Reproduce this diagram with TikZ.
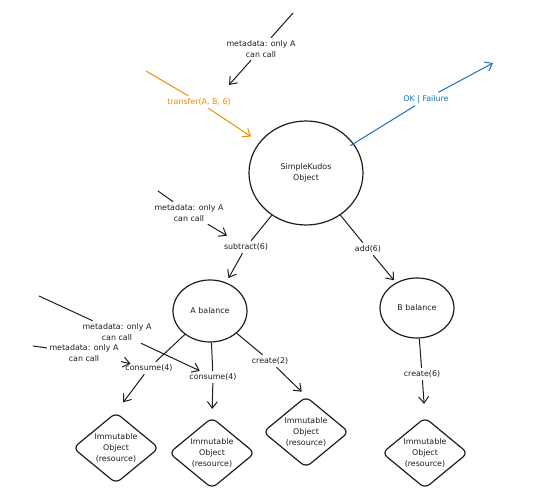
\documentclass[tikz,border=0pt]{standalone}
\usepackage{fontspec}
\setmainfont{DejaVu Sans}
\usetikzlibrary{shapes.geometric, arrows.meta}
\definecolor{ink}{HTML}{1E1E1E}
\definecolor{exorange}{HTML}{F08C00}
\definecolor{exblue}{HTML}{1971C2}
\begin{document}
\begin{tikzpicture}[x=1pt,y=-1pt,
  every node/.style={font=\fontsize{7.9}{11}\selectfont, text=ink},
  lbl/.style={align=center, inner sep=2.5pt},
  blob/.style={ellipse, draw=ink, line width=1.2pt, inner sep=0pt, align=center},
  res/.style={diamond, draw=ink, line width=1.2pt, rounded corners=6pt,
    minimum width=86pt, minimum height=71pt, inner sep=0pt, aspect=1.21, align=center},
  link/.style={draw=ink, line width=1pt},
  arr/.style={link, -{Straight Barb[length=6.5pt,width=10pt]}},
]
\fill[white] (0,0) rectangle (533,500);
\useasboundingbox (0,0) rectangle (533,500);

% main nodes
\node[blob, minimum width=114pt, minimum height=104pt] (kudos) at (306,173) {SimpleKudos\\Object};
\node[blob, minimum width=74pt, minimum height=62pt] (abal) at (210,311) {A balance};
\node[blob, minimum width=74pt, minimum height=60pt] (bbal) at (417,308) {B balance};

\node[res] (d1) at (116,448) {Immutable\\Object\\(resource)};
\node[res] (d2) at (212,453) {Immutable\\Object\\(resource)};
\node[res] (d3) at (306,432) {Immutable\\Object\\(resource)};
\node[res] (d4) at (425,453) {Immutable\\Object\\(resource)};

% labels
\node[lbl] (m1) at (261,49) {metadata: only A\\can call};
\node[lbl, text=exorange] (transfer) at (199,102) {transfer(A, B, 6)};
\node[lbl, text=exblue] (okf) at (426,99) {OK | Failure};
\node[lbl] (m2) at (189,213) {metadata: only A\\can call};
\node[lbl] (subtract) at (246,247) {subtract(6)};
\node[lbl] (add) at (368,249) {add(6)};
\node[lbl] (m3) at (117,332) {metadata: only A\\can call};
\node[lbl] (m4) at (84,353) {metadata: only A\\can call};
\node[lbl] (c1) at (149,368) {consume(4)};
\node[lbl] (c2) at (213,377) {consume(4)};
\node[lbl] (cr2) at (270,361) {create(2)};
\node[lbl] (cr6) at (422,374) {create(6)};

% free ends
\coordinate (t1) at (293,13);
\coordinate (h1) at (229,85);
\coordinate (t2) at (146,71);
\coordinate (h3) at (493,63);
\coordinate (t4) at (158,191);
\coordinate (t7) at (39,296);
\coordinate (t8) at (33,346);

% connectors
\draw[link] (t1) -- (m1);
\draw[arr] (m1) -- (h1);

\draw[link, draw=exorange] (t2) -- (transfer);
\draw[arr, draw=exorange, shorten >=10pt] (transfer) -- (kudos);

\draw[link, draw=exblue, shorten <=-4pt] (kudos) -- (okf);
\draw[arr, draw=exblue] (okf) -- (h3);

\draw[link] (t4) -- (m2);
\draw[arr, shorten >=10pt] (m2) -- (subtract);

\draw[link] (kudos) -- (subtract);
\draw[arr, shorten >=5pt] (subtract) -- (abal);

\draw[link] (kudos) -- (add);
\draw[arr, shorten >=3pt] (add) -- (bbal);

\draw[link] (t7) -- (m3);
\draw[arr] (m3) -- (c2);

\draw[link] (t8) -- (m4);
\draw[arr, shorten >=-8pt] (m4) -- (c1);

\draw[link] (abal) -- (c1);
\draw[arr, shorten >=12pt] (c1) -- (d1.north);

\draw[link] (abal) -- (c2);
\draw[arr, shorten >=8pt] (c2) -- (d2.north);

\draw[link] (abal) -- (cr2);
\draw[arr, shorten >=6pt] (cr2) -- (d3.north);

\draw[link] (bbal) -- (cr6);
\draw[arr, shorten >=13pt] (cr6) -- (d4.north);
\end{tikzpicture}
\end{document}
